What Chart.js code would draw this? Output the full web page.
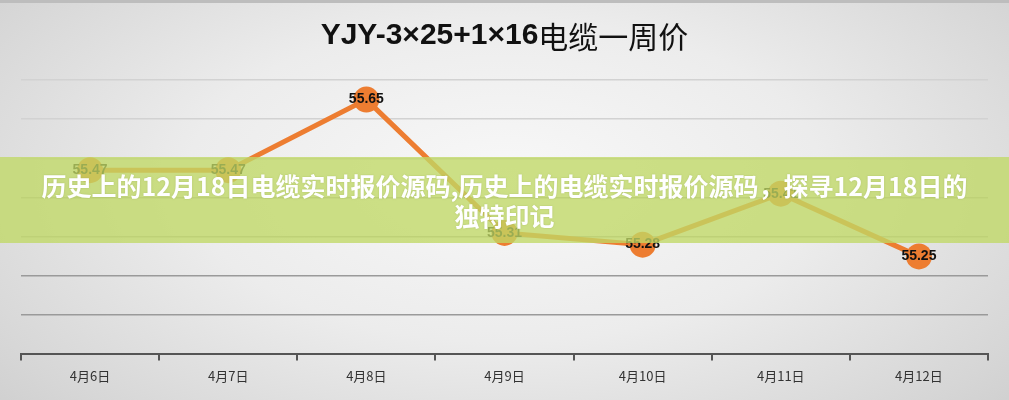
<!DOCTYPE html>
<html>
<head>
<meta charset="utf-8">
<script src="https://cdn.jsdelivr.net/npm/chart.js@4.4.1/dist/chart.umd.min.js"></script>
<style>
html,body{margin:0;padding:0;}
body{width:1009px;height:400px;overflow:hidden;position:relative;
background:radial-gradient(ellipse 70% 90% at 50% 45%, #f8f8f8 0%, #ececec 45%, #d6d6d6 85%, #cdcdcd 100%);}
#wrap{position:absolute;left:0;top:0;width:1009px;height:400px;}
#topline{position:absolute;left:0;top:0;width:1009px;height:3px;background:#bdbdbd;}
#band{position:absolute;left:0;top:157px;width:1009px;height:86px;background:rgba(192,217,101,0.78);
display:flex;align-items:center;justify-content:center;}
#band div{color:#fff;font-family:'Noto Sans CJK SC',sans-serif;font-weight:bold;font-size:25px;line-height:30px;
text-align:center;width:990px;text-shadow:0 0 2px rgba(120,140,60,0.35);}
</style>
</head>
<body>
<div id="topline"></div>
<div id="wrap"><canvas id="c" width="1009" height="400"></canvas></div>
<div id="band"><div>历史上的12月18日电缆实时报价源码,历史上的电缆实时报价源码，探寻12月18日的<br>独特印记</div></div>
<script>
const titleLatin = "YJY-3×25+1×16";
const titleCJK = "电缆一周价";
const categories = ["4月6日","4月7日","4月8日","4月9日","4月10日","4月11日","4月12日"];
const prices = [55.47, 55.47, 55.65, 55.31, 55.28, 55.41, 55.25];
const yMin = 55.0, yMax = 55.7, yStep = 0.1;

const titlePlugin = {
  id:'twoFontTitle',
  afterDraw(chart){
    const ctx = chart.ctx;
    ctx.save();
    const f1 = "bold 30px 'Liberation Sans Narrow','Liberation Sans',sans-serif";
    const f2 = "30px 'Noto Sans CJK SC',sans-serif";
    ctx.font = f1; const w1 = ctx.measureText(titleLatin).width;
    ctx.font = f2; const w2 = ctx.measureText(titleCJK).width;
    let x = chart.width/2 - (w1+w2)/2;
    const y = 36;
    ctx.textBaseline = 'middle'; ctx.textAlign='left'; ctx.fillStyle = '#111';
    ctx.font = f1; ctx.fillText(titleLatin, x, y);
    ctx.font = f2; ctx.fillText(titleCJK, x + w1, y+1);
    ctx.restore();
  }
};
const labelPlugin = {
  id:'pointLabels',
  afterDatasetsDraw(chart){
    const ctx = chart.ctx;
    const meta = chart.getDatasetMeta(0);
    ctx.save();
    ctx.font = "bold 14px 'Liberation Sans Narrow','Liberation Sans',sans-serif";
    ctx.fillStyle = '#111'; ctx.textAlign='center'; ctx.textBaseline='middle';
    meta.data.forEach((pt,i)=>{
      ctx.fillText(prices[i].toFixed(2), pt.x, pt.y);
    });
    ctx.restore();
  }
};

new Chart(document.getElementById('c'), {
  type:'line',
  data:{labels:categories, datasets:[{
    data:prices, borderColor:'#ED7D31', backgroundColor:'#ED7D31', borderWidth:5,
    pointRadius:13, pointHoverRadius:13, pointBackgroundColor:'#ED7D31', pointBorderWidth:0,
    tension:0, fill:false
  }]},
  options:{
    responsive:false, animation:false, devicePixelRatio:1,
    layout:{padding:{left:21, right:21, top:80, bottom:8}},
    plugins:{legend:{display:false}, title:{display:false}, tooltip:{enabled:false}},
    scales:{
      x:{offset:true,
        grid:{offset:true, drawOnChartArea:false, drawTicks:true, tickLength:6, color:'#555', lineWidth:2},
        border:{display:true, color:'#555', width:2},
        ticks:{color:'#333', padding:8, font:{family:"'Liberation Sans Narrow','Noto Sans CJK SC',sans-serif", size:13}}
      },
      y:{min:yMin, max:yMax,
        ticks:{display:false, stepSize:yStep},
        border:{display:false},
        grid:{drawTicks:false, lineWidth:1.5,
          color:(c)=>{ const v=c.tick?c.tick.value:0; if(v<55.05) return 'rgba(0,0,0,0)'; if(v<55.25) return '#9a9a9a'; if(v<55.45) return '#b8b8b8'; return '#d2d2d2'; }}
      }
    }
  },
  plugins:[titlePlugin,labelPlugin]
});
</script>
</body>
</html>
